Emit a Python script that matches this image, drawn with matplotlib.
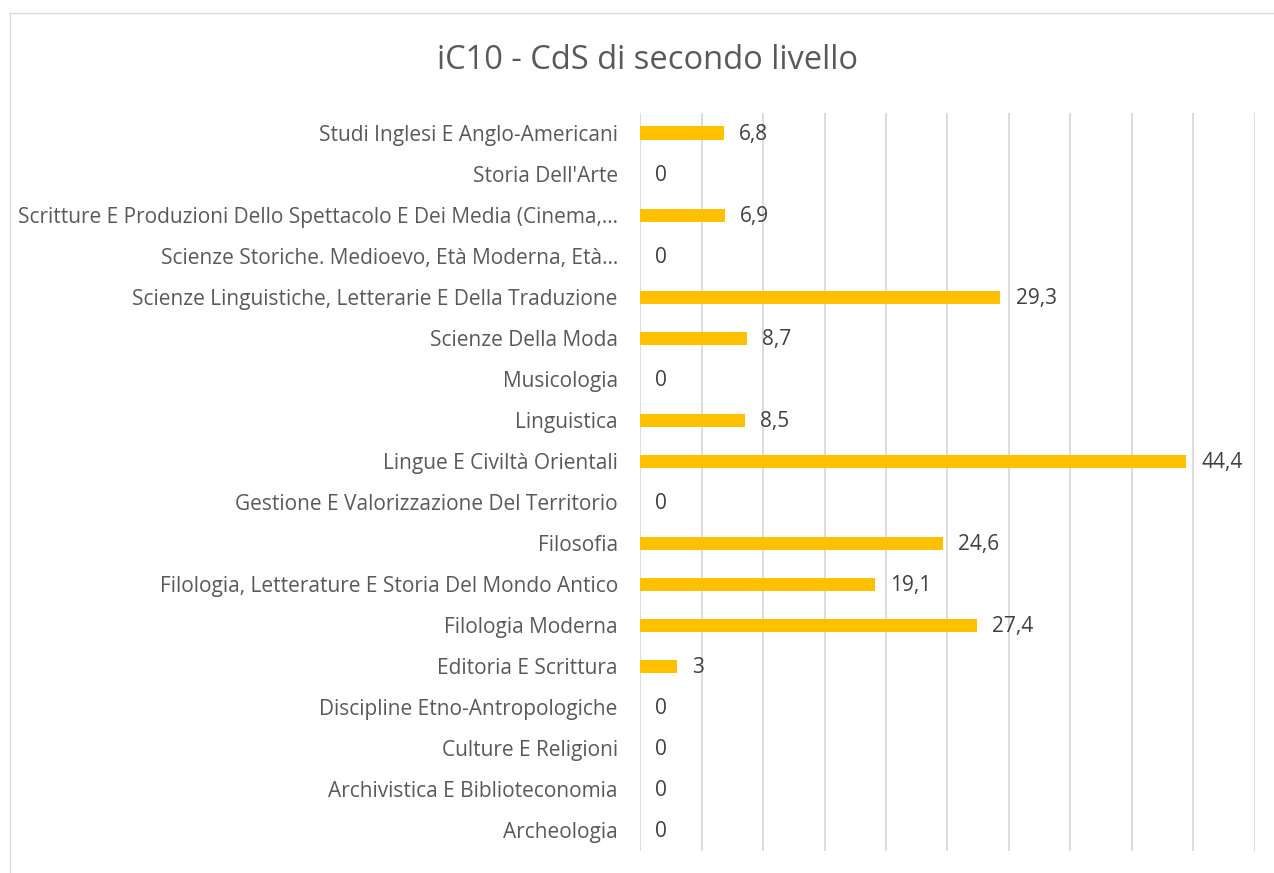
import matplotlib.pyplot as plt
from matplotlib.lines import Line2D

# corsi di laurea magistrale, dal basso verso l'alto
categories = [
    "Archeologia",
    "Archivistica E Biblioteconomia",
    "Culture E Religioni",
    "Discipline Etno-Antropologiche",
    "Editoria E Scrittura",
    "Filologia Moderna",
    "Filologia, Letterature E Storia Del Mondo Antico",
    "Filosofia",
    "Gestione E Valorizzazione Del Territorio",
    "Lingue E Civiltà Orientali",
    "Linguistica",
    "Musicologia",
    "Scienze Della Moda",
    "Scienze Linguistiche, Letterarie E Della Traduzione",
    "Scienze Storiche. Medioevo, Età Moderna, Età…",
    "Scritture E Produzioni Dello Spettacolo E Dei Media (Cinema,…",
    "Storia Dell'Arte",
    "Studi Inglesi E Anglo-Americani",
]
values = [0, 0, 0, 0, 3, 27.4, 19.1, 24.6, 0, 44.4, 8.5, 0, 8.7, 29.3, 0, 6.9, 0, 6.8]
x_ticks = list(range(0, 55, 5))

plt.rcParams['font.family'] = ['Open Sans', 'DejaVu Sans']

fig = plt.figure(figsize=(12.74, 8.73), dpi=100)
ax = fig.add_axes([0.5024, 0.0252, 0.4826, 0.8454])

y = list(range(len(categories)))
ax.barh(y, values, height=0.34, color='#FFC000', zorder=3)

for yi, v in zip(y, values):
    label = f"{v:g}".replace('.', ',')
    ax.annotate(label, (v, yi), xytext=(11, -1), textcoords='offset points',
                va='center', ha='left', fontsize=15, color='#404040')

ax.set_xlim(0, 50)
ax.set_ylim(-0.5, len(categories) - 0.5)
ax.set_xticks(x_ticks)
ax.set_yticks(y)
ax.set_yticklabels(categories, fontsize=15, color='#595959')
ax.tick_params(axis='y', length=0, pad=16)
ax.tick_params(axis='x', length=0, labelbottom=False)
ax.grid(axis='x', color='#D9D9D9', linewidth=1.3, zorder=0)
for s in ax.spines.values():
    s.set_visible(False)

fig.text(0.508, 0.931, "iC10 - CdS di secondo livello", ha='center', va='center',
         fontsize=23.5, color='#595959')

# cornice dell'area del grafico
fig.add_artist(Line2D([10 / 1274, 10 / 1274], [0, 1 - 13 / 873],
                      transform=fig.transFigure, color='#D9D9D9', linewidth=1))
fig.add_artist(Line2D([10 / 1274, 1], [1 - 13 / 873, 1 - 13 / 873],
                      transform=fig.transFigure, color='#D9D9D9', linewidth=1))

fig.savefig('out.png', dpi=100)
